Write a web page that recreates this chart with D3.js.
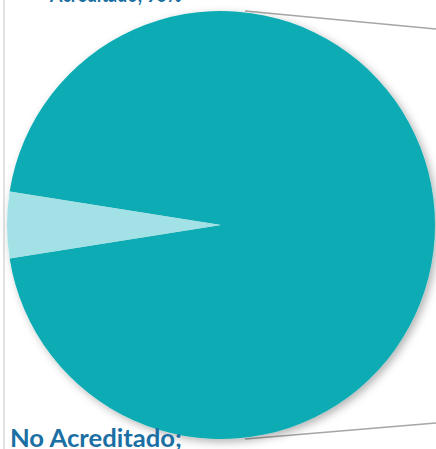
<!DOCTYPE html>
<html lang="es">
<head>
<meta charset="UTF-8">
<title>Acreditación</title>
<script src="https://cdn.jsdelivr.net/npm/d3@7"></script>
<style>
  html, body { margin: 0; padding: 0; background: #fff; }
  .lbl { font-family: Lato, "Open Sans", sans-serif; font-weight: bold; fill: #1b6fa3; }
</style>
</head>
<body>
<script>
// data
var categories = ["Acreditado", "No Acreditado"];
var values = [95, 5];
var colors = ["#0aabb3", "#a2e2e7"];
var labels = ["Acreditado; 95%", "No Acreditado;"];

var W = 436, H = 449;
var cx = 221, cy = 225, r = 214;

var svg = d3.select("body").append("svg")
  .attr("width", W)
  .attr("height", H);

// soft shadow under the pie
var defs = svg.append("defs");
defs.append("filter")
  .attr("id", "shadow")
  .attr("x", "-20%").attr("y", "-20%")
  .attr("width", "140%").attr("height", "140%")
  .append("feDropShadow")
  .attr("dx", 3).attr("dy", 3)
  .attr("stdDeviation", 4)
  .attr("flood-color", "#000")
  .attr("flood-opacity", 0.3);

// chart area border (only left edge is in view)
svg.append("line")
  .attr("x1", 4).attr("x2", 4)
  .attr("y1", 0).attr("y2", H)
  .attr("stroke", "#d9d9d9")
  .attr("stroke-width", 1.5);

// connector lines to the secondary chart (off to the right)
svg.append("line")
  .attr("x1", 245).attr("y1", 11)
  .attr("x2", W).attr("y2", 29)
  .attr("stroke", "#a6a6a6").attr("stroke-width", 1.5);
svg.append("line")
  .attr("x1", 245).attr("y1", 439)
  .attr("x2", W).attr("y2", 423)
  .attr("stroke", "#a6a6a6").attr("stroke-width", 1.5);

// small slice centred at 9 o'clock
var total = d3.sum(values);
var start = 1.5 * Math.PI - (values[1] / total) * Math.PI - (values[0] / total) * 2 * Math.PI;

var pie = d3.pie()
  .sort(null)
  .startAngle(start)
  .endAngle(start + 2 * Math.PI);

var arc = d3.arc().innerRadius(0).outerRadius(r);

var g = svg.append("g")
  .attr("transform", "translate(" + cx + "," + cy + ")")
  .attr("filter", "url(#shadow)");

g.selectAll("path")
  .data(pie(values))
  .enter()
  .append("path")
  .attr("d", arc)
  .attr("fill", function(d, i) { return colors[i]; });

// data labels (top one sits mostly above the visible area)
svg.append("text")
  .attr("class", "lbl")
  .attr("x", 50).attr("y", 2)
  .attr("textLength", 132)
  .attr("lengthAdjust", "spacingAndGlyphs")
  .style("font-size", "24px")
  .text(labels[0]);

svg.append("text")
  .attr("class", "lbl")
  .attr("x", 10).attr("y", 447)
  .attr("textLength", 172)
  .attr("lengthAdjust", "spacingAndGlyphs")
  .style("font-size", "24px")
  .text(labels[1]);
</script>
</body>
</html>
